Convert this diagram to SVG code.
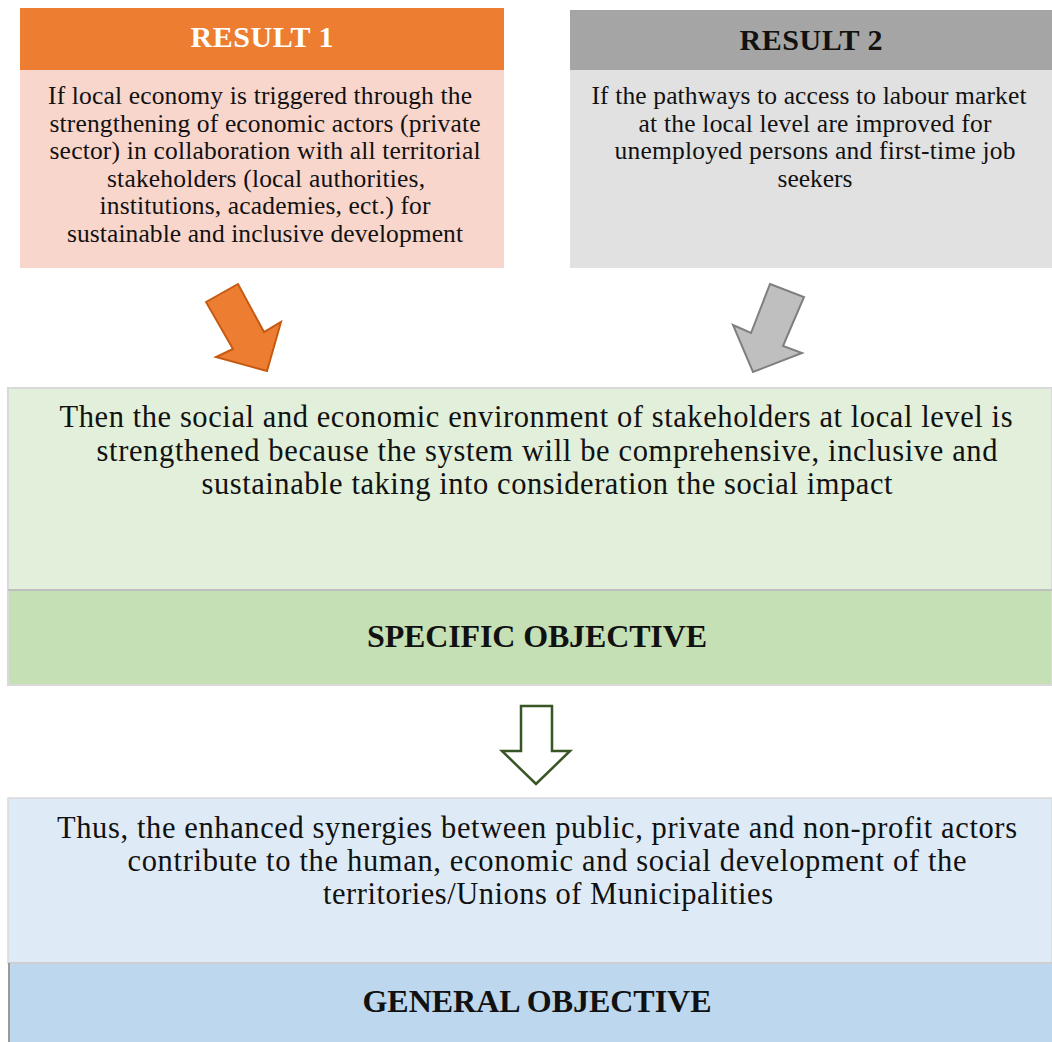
<svg xmlns="http://www.w3.org/2000/svg" width="1052" height="1042" viewBox="0 0 1052 1042">
<style>
text{font-family:"Liberation Serif","Times New Roman",serif;text-anchor:middle;fill:#111}
.b{font-size:25.5px}
.m{font-size:30.5px}
.h{font-size:30px;font-weight:bold}
.o{font-size:32px;font-weight:bold}
</style>
<rect x="0" y="0" width="1052" height="1042" fill="#ffffff"/>
<g id="result1">
<rect x="20" y="8" width="484" height="62" fill="#ED7D31"/>
<rect x="20" y="70" width="484" height="198" fill="#F8D6CC"/>
<text class="h" x="262" y="47" textLength="143" lengthAdjust="spacing" style="fill:#ffffff">RESULT 1</text>
<text class="b" x="260" y="104" textLength="424" lengthAdjust="spacing">If local economy is triggered through the</text>
<text class="b" x="265" y="131.5" textLength="431" lengthAdjust="spacing">strengthening of economic actors (private</text>
<text class="b" x="265" y="159" textLength="431" lengthAdjust="spacing">sector) in collaboration with all territorial</text>
<text class="b" x="266" y="186.5" textLength="318" lengthAdjust="spacing">stakeholders (local authorities,</text>
<text class="b" x="265" y="214" textLength="331" lengthAdjust="spacing">institutions, academies, ect.) for</text>
<text class="b" x="265" y="241.5" textLength="396" lengthAdjust="spacing">sustainable and inclusive development</text>
</g>
<g id="result2">
<rect x="570" y="10" width="482" height="60" fill="#A5A5A5"/>
<rect x="570" y="70" width="482" height="198" fill="#E1E1E1"/>
<text class="h" x="811" y="50" textLength="143" lengthAdjust="spacing">RESULT 2</text>
<text class="b" x="809" y="104" textLength="435" lengthAdjust="spacing">If the pathways to access to labour market</text>
<text class="b" x="815" y="131.5" textLength="353" lengthAdjust="spacing">at the local level are improved for</text>
<text class="b" x="815" y="159" textLength="401" lengthAdjust="spacing">unemployed persons and first-time job</text>
<text class="b" x="815" y="186.5" textLength="75" lengthAdjust="spacing">seekers</text>
</g>
<g id="specific-objective">
<rect x="8" y="388" width="1044" height="297" fill="#E2EFDA" stroke="#D9D9D9" stroke-width="2"/>
<rect x="8" y="590" width="1044" height="95" fill="#C5E0B4" stroke="#D9D9D9" stroke-width="2"/>
<line x1="8" y1="590" x2="1052" y2="590" stroke="#BFBFBF" stroke-width="2"/>
<text class="m" x="536" y="427" textLength="953" lengthAdjust="spacing">Then the social and economic environment of stakeholders at local level is</text>
<text class="m" x="547" y="461" textLength="901" lengthAdjust="spacing">strengthened because the system will be comprehensive, inclusive and</text>
<text class="m" x="547" y="494" textLength="691" lengthAdjust="spacing">sustainable taking into consideration the social impact</text>
<text class="o" x="537" y="647" textLength="340" lengthAdjust="spacing">SPECIFIC OBJECTIVE</text>
</g>
<g id="general-objective">
<rect x="8" y="798" width="1044" height="165" fill="#DEEBF7" stroke="#D9D9D9" stroke-width="1.5"/>
<rect x="8" y="963" width="1044" height="79" fill="#BDD7EE"/>
<line x1="8" y1="963" x2="1052" y2="963" stroke="#CFCFCF" stroke-width="2"/>
<line x1="9" y1="963" x2="9" y2="1042" stroke="#9A9A9A" stroke-width="2"/>
<text class="m" x="537" y="838" textLength="960" lengthAdjust="spacing">Thus, the enhanced synergies between public, private and non-profit actors</text>
<text class="m" x="547" y="871" textLength="839" lengthAdjust="spacing">contribute to the human, economic and social development of the</text>
<text class="m" x="548" y="904" textLength="450" lengthAdjust="spacing">territories/Unions of Municipalities</text>
<text class="o" x="537" y="1012" textLength="349" lengthAdjust="spacing">GENERAL OBJECTIVE</text>
</g>
<g id="connectors">
<polygon points="206,302 238,284 264,332 281,322 267,371 216,357 233,349" fill="#ED7D31" stroke="#C55A11" stroke-width="2"/>
<polygon points="770,284 804,297 783,346 802,353 753,372 733,325 751,333" fill="#BFBFBF" stroke="#7F7F7F" stroke-width="2"/>
<polygon points="521,706 552,706 552,751 570,751 536,784 502,751 521,751" fill="#ffffff" stroke="#375623" stroke-width="2.5"/>
</g>
</svg>
